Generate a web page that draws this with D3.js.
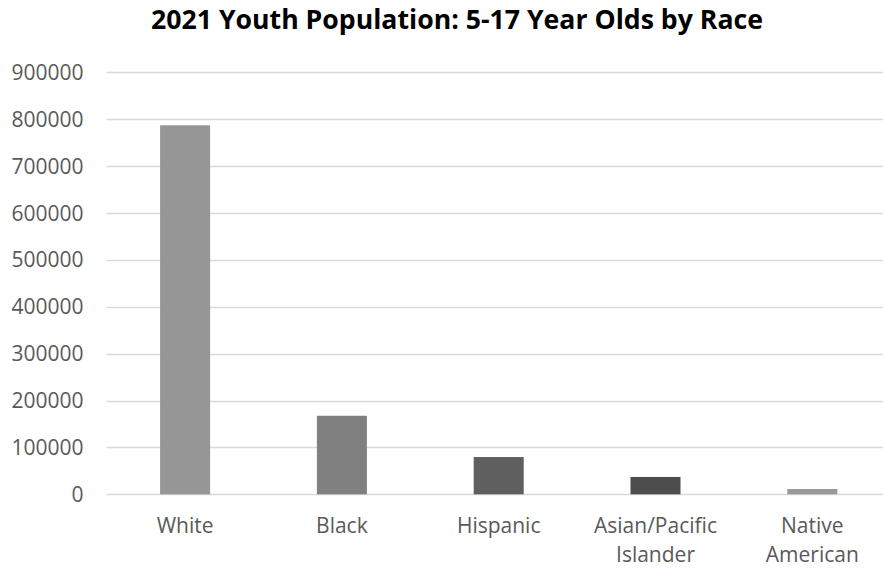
<!DOCTYPE html>
<html><head><meta charset="utf-8">
<script src="https://cdn.jsdelivr.net/npm/d3@7"></script>
<style>html,body{margin:0;padding:0;background:#fff;overflow:hidden}</style>
</head><body>
<script>
const categories = ["White", "Black", "Hispanic", "Asian/Pacific Islander", "Native American"];
const labelLines = [["White"], ["Black"], ["Hispanic"], ["Asian/Pacific", "Islander"], ["Native", "American"]];
const values = [787000, 167500, 79500, 37000, 11300];
const barColors = ["#969696", "#808080", "#5f5f5f", "#4d4d4d", "#999999"];
const yTicks = [0, 100000, 200000, 300000, 400000, 500000, 600000, 700000, 800000, 900000];
const title = "2021 Youth Population: 5-17 Year Olds by Race";

const W = 883, H = 569;
const svg = d3.select("body").append("svg").attr("width", W).attr("height", H);

const x = d3.scaleBand().domain(categories).range([106.7, 890.7]).paddingInner(0.681).paddingOuter(0.3405);
const y = d3.scaleLinear().domain([0, 900000]).range([494.3, 72.3]);

// gridlines
svg.append("g").selectAll("line").data(yTicks).join("line")
  .attr("x1", 106.7).attr("x2", 890.7)
  .attr("y1", d => Math.round(y(d)) + 0.5).attr("y2", d => Math.round(y(d)) + 0.5)
  .attr("stroke", "#d9d9d9").attr("stroke-width", 1.5);

// y labels
svg.append("g").selectAll("text").data(yTicks).join("text")
  .attr("x", 83.5).attr("y", d => y(d)).attr("dy", "0.36em")
  .attr("text-anchor", "end")
  .attr("font-family", "'Open Sans', sans-serif").attr("font-size", 21)
  .attr("fill", "#595959").text(d => d);

// bars
svg.append("g").selectAll("rect").data(values).join("rect")
  .attr("x", (d, i) => x(categories[i]))
  .attr("width", x.bandwidth())
  .attr("y", d => y(d))
  .attr("height", d => y(0) - y(d))
  .attr("fill", (d, i) => barColors[i]);

// x labels
const xl = svg.append("g").selectAll("text").data(categories).join("text")
  .attr("x", d => x(d) + x.bandwidth() / 2)
  .attr("y", 533)
  .attr("text-anchor", "middle")
  .attr("font-family", "'Open Sans', sans-serif").attr("font-size", 21)
  .attr("fill", "#595959");
xl.each(function (d, i) {
  const t = d3.select(this);
  labelLines[i].forEach((ln, j) => {
    t.append("tspan").attr("x", x(d) + x.bandwidth() / 2).attr("dy", j === 0 ? 0 : 29).text(ln);
  });
});

// title
svg.append("text").attr("x", 457).attr("y", 29.3).attr("text-anchor", "middle")
  .attr("font-family", "'Open Sans', sans-serif").attr("font-weight", "bold")
  .attr("font-size", 26.5).attr("fill", "#000")
  .attr("textLength", 612).attr("lengthAdjust", "spacingAndGlyphs")
  .text(title);
</script>
</body></html>
